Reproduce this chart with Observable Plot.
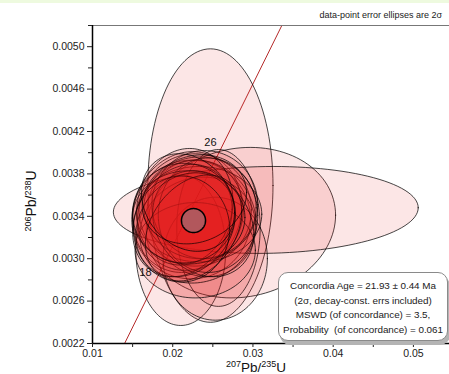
<!DOCTYPE html>
<html><head><meta charset="utf-8">
<script src="https://cdn.jsdelivr.net/npm/d3@7"></script>
<script src="https://cdn.jsdelivr.net/npm/@observablehq/plot@0.6"></script>
<style>
body{margin:0;background:#fff;font-family:"Liberation Sans",Arial,sans-serif}
#wrap{position:relative;width:449px;height:374px;overflow:hidden;background:#fff}
#strip{position:absolute;left:0;top:0;width:449px;height:3px;background:#eefadf}
#box{position:absolute;left:278px;top:272px;width:168px;height:61px;border:1px solid #8a8a8a;border-radius:10px;background:#fff;box-shadow:2px 4px 0 #b4b4b4;font-size:9.9px;color:#222;text-align:center;line-height:14.6px;padding-top:6px;box-sizing:content-box;white-space:pre;letter-spacing:-0.05px}
</style></head><body>
<div id="wrap"><div id="strip"></div></div>
<script>
// ---- data ----
const xTicks = [0.01, 0.02, 0.03, 0.04, 0.05];
const xMinor = [0.015, 0.025, 0.035, 0.045];
const yTicks = [0.0022, 0.0026, 0.0030, 0.0034, 0.0038, 0.0042, 0.0046, 0.0050];
const yMinor = [0.0024, 0.0028, 0.0032, 0.0036, 0.0040, 0.0044, 0.0048, 0.0052];

// data-point 2σ error ellipses: centre (207/235, 206/238), half-extents, correlation
const ellX   = [0.0247, 0.0316, 0.0285, 0.0257, 0.0210, 0.0253, 0.0228,
  0.0222,0.0228,0.0216,0.0236,0.0214,0.0226,0.0240,0.0219,0.0231,0.0212,
  0.0233,0.0215,0.0238,0.0223,0.0227,0.0211,0.0244,0.0218,0.0234,0.0220];
const ellY   = [0.00369, 0.00346, 0.00334, 0.00329, 0.00308, 0.00300, 0.00308,
  0.00341,0.00346,0.00332,0.00338,0.00343,0.00329,0.00351,0.00353,0.00327,0.00336,
  0.00342,0.00349,0.00333,0.00337,0.00356,0.00328,0.00341,0.00344,0.00348,0.00339];
const ellSX  = [0.0078, 0.0190, 0.0118, 0.0052, 0.0056, 0.0065, 0.0075,
  0.0066,0.0070,0.0062,0.0068,0.0064,0.0060,0.0066,0.0058,0.0072,0.0062,
  0.0078,0.0060,0.0063,0.0074,0.0065,0.0060,0.0062,0.0068,0.0070,0.0070];
const ellSY  = [0.00129, 0.00041, 0.00071, 0.00074, 0.00071, 0.00058, 0.00045,
  0.00052,0.00053,0.00049,0.00055,0.00047,0.00050,0.00051,0.00046,0.00050,0.00053,
  0.00045,0.00055,0.00050,0.00056,0.00042,0.00050,0.00054,0.00057,0.00048,0.00044];
const ellRho = [0, 0.05, 0.1, 0, 0, 0, 0,
  0.1,0,0.2,-0.1,0,0.3,0,-0.2,0.1,0.2,
  0,0.1,-0.2,0,0.15,0,0,0.1,0,0];

// concordia curve and concordia age ellipse
const concX = [0.0140, 0.0238, 0.0336];
const concY = [0.0022, 0.0037, 0.0052];
const ageX = 0.02259, ageY = 0.00336, ageSX = 0.0015, ageSY = 0.000113;

// point labels
const labText = ["26", "18"];
const labX = [0.0247, 0.0166];
const labY = [0.00410, 0.00287];

// ---- build ----
function ellipse(cx, cy, sx, sy, rho, n = 120) {
  const pts = [];
  const r2 = Math.sqrt(1 - rho * rho);
  for (let i = 0; i <= n; i++) {
    const t = 2 * Math.PI * i / n;
    pts.push({x: cx + sx * Math.cos(t), y: cy + sy * (rho * Math.cos(t) + r2 * Math.sin(t))});
  }
  return pts;
}
const ells = ellX.map((cx, i) => ({pts: ellipse(cx, ellY[i], ellSX[i], ellSY[i], ellRho[i]), area: ellSX[i] * ellSY[i]}));
ells.sort((a, b) => b.area - a.area);

const conc = concX.map((x, i) => ({x, y: concY[i]}));
const labs = labText.map((t, i) => ({t, x: labX[i], y: labY[i]}));

const marks = [
  Plot.line(conc, {x: "x", y: "y", stroke: "#b52a2a", strokeWidth: 1, clip: true}),
  ...ells.map(e => Plot.line(e.pts, {x: "x", y: "y", fill: "#e01a1c", fillOpacity: 0.11, stroke: "#000", strokeOpacity: 0.72, strokeWidth: 1, curve: "linear-closed"})),
  Plot.line(ellipse(ageX, ageY, ageSX, ageSY, 0), {x: "x", y: "y", fill: "#b2575c", stroke: "#000", strokeWidth: 1.5, curve: "linear-closed"}),
  Plot.text(labs, {x: "x", y: "y", text: "t", fontSize: 11, fill: "#111"}),
  Plot.ruleY([0.0052], {stroke: "#777", strokeWidth: 1}),
  Plot.ruleX([0.01], {stroke: "#000", strokeWidth: 1.5}),
  Plot.ruleY([0.0022], {stroke: "#000", strokeWidth: 1.5}),
  Plot.axisX(xTicks, {tickFormat: d3.format(".2f"), tickSize: 4, tickPadding: 2, label: null, fontSize: 10.5}),
  Plot.axisX(xMinor, {tickFormat: () => "", tickSize: 4, label: null}),
  Plot.axisY(yTicks, {tickFormat: d3.format(".4f"), tickSize: 5, tickPadding: 3, label: null, fontSize: 10.5}),
  Plot.axisY(yMinor, {tickFormat: () => "", tickSize: 4, label: null}),
];

const chart = Plot.plot({
  width: 449, height: 374,
  marginLeft: 92, marginRight: 0, marginTop: 25, marginBottom: 31,
  style: {fontFamily: '"Liberation Sans", Arial, sans-serif', fontSize: "10.5px", color: "#222", background: "transparent"},
  x: {domain: [0.01, 0.0545], label: null},
  y: {domain: [0.0022, 0.0052], label: null},
  marks
});
const wrap = document.getElementById("wrap");
chart.style.position = "absolute"; chart.style.left = "0"; chart.style.top = "0";
wrap.appendChild(chart);

// text annotations
const svg = d3.select(chart);
function supLabel(g, parts, big) {
  parts.forEach(([s, sup]) => {
    g.append("tspan").attr("font-size", sup ? 9 : big).attr("dy", sup ? -5 : 5).text(s);
  });
}
const xl = svg.append("text").attr("x", 256).attr("y", 372).attr("text-anchor", "middle").attr("fill", "#111")
  .attr("font-family", '"Liberation Sans", Arial, sans-serif');
supLabel(xl, [["207", true], ["Pb/", false], ["235", true], ["U", false]], 13.5);
const yl = svg.append("text").attr("transform", "translate(36,201) rotate(-90)").attr("text-anchor", "middle").attr("fill", "#111")
  .attr("font-family", '"Liberation Sans", Arial, sans-serif');
supLabel(yl, [["206", true], ["Pb/", false], ["238", true], ["U", false]], 14);
svg.append("text").attr("x", 442).attr("y", 18).attr("text-anchor", "end").attr("font-size", 9).attr("fill", "#222")
  .text("data-point error ellipses are 2σ");

const box = document.createElement("div");
box.id = "box";
box.textContent = "Concordia Age = 21.93 ± 0.44 Ma\n(2σ, decay-const. errs included)\nMSWD (of concordance) = 3.5,\nProbability  (of concordance) = 0.061";
wrap.appendChild(box);
</script>
</body></html>
